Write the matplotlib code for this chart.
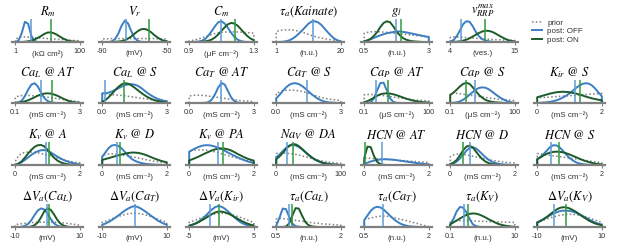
import matplotlib.pyplot as plt
import numpy as np
from matplotlib.lines import Line2D

plt.rcParams['mathtext.fontset'] = 'stix'
plt.rcParams['font.family'] = ['Liberation Sans', 'DejaVu Sans']

# panels row by row; the last slot of the first row holds the legend
titles = [
    r'$R_m$', r'$V_r$', r'$C_m$', r'$\tau_a(Kainate)$', r'$g_l$', r'$v_{RRP}^{max}$',
    r'$Ca_L\ @\ AT$', r'$Ca_L\ @\ S$', r'$Ca_T\ @\ AT$', r'$Ca_T\ @\ S$',
    r'$Ca_P\ @\ AT$', r'$Ca_P\ @\ S$', r'$K_{ir}\ @\ S$',
    r'$K_v\ @\ A$', r'$K_v\ @\ D$', r'$K_v\ @\ PA$', r'$Na_V\ @\ DA$',
    r'$HCN\ @\ AT$', r'$HCN\ @\ D$', r'$HCN\ @\ S$',
    r'$\Delta V_a(Ca_L)$', r'$\Delta V_a(Ca_T)$', r'$\Delta V_a(K_{ir})$',
    r'$\tau_a(Ca_L)$', r'$\tau_a(Ca_T)$', r'$\tau_a(K_V)$', r'$\Delta V_a(K_V)$',
]
x_low = [1, -90, 0.9, 1, 0.5, 4,
         0.1, 0.0, 0.0, 0.0, 0.1, 0.1, 0,
         0, 0, 0, 0, 0, 0, 0,
         -10, -10, -5, 0.5, 0.5, 0.1, -10]
x_high = [100, -50, 1.3, 20, 3, 15,
          3, 3, 3, 3, 100, 100, 2,
          2, 2, 2, 100, 2, 2, 2,
          10, 10, 5, 2, 2, 10, 10]
log_x = [True, False, False, False, False, False,
         True, False, False, False, True, True, False,
         False, False, False, False, False, False, False,
         False, False, False, False, False, True, False]
tick_labels = [('1', '100'), ('-90', '-50'), ('0.9', '1.3'), ('1', '20'), ('0.5', '3'), ('4', '15'),
               ('0.1', '3'), ('0.0', '3'), ('0.0', '3'), ('0.0', '3'), ('0.1', '100'), ('0.1', '100'), ('0', '2'),
               ('0', '2'), ('0', '2'), ('0', '2'), ('0', '100'), ('0', '2'), ('0', '2'), ('0', '2'),
               ('-10', '10'), ('-10', '10'), ('-5', '5'), ('0.5', '2'), ('0.5', '2'), ('0.1', '10'), ('-10', '10')]
ms = '(mS cm⁻²)'
units = ['(kΩ cm²)', '(mV)', '(μF cm⁻²)', '(n.u.)', '(n.u.)', '(ves.)',
         ms, ms, ms, ms, '(μS cm⁻²)', '(μS cm⁻²)', ms,
         ms, ms, ms, ms, ms, ms, ms,
         '(mV)', '(mV)', '(mV)', '(n.u.)', '(n.u.)', '(n.u.)', '(mV)']

# densities sampled at 21 evenly spaced points across [low, high] (log spaced on log axes)
prior = [
    [.1, .2, .22, .22, .21, .2, .19, .18, .17, .16, .15, .14, .13, .12, .11, .1, .09, .08, .07, .06, .05],
    [.13, .14, .14, .15, .15, .15, .15, .15, .15, .15, .15, .15, .15, .15, .15, .15, .15, .14, .14, .14, .13],
    [.05, .07, .1, .14, .18, .23, .28, .33, .37, .4, .42, .43, .44, .44, .44, .44, .43, .42, .41, .4, .38],
    [.45, .5, .52, .53, .53, .52, .5, .47, .43, .38, .33, .28, .24, .2, .17, .14, .12, .1, .08, .06, .05],
    [.38, .42, .44, .45, .45, .44, .43, .42, .4, .39, .37, .36, .34, .33, .31, .3, .28, .27, .26, .25, .24],
    [.2, .22, .22, .21, .2, .19, .18, .17, .16, .15, .14, .13, .12, .11, .1, .1, .09, .08, .08, .07, .07],
    [.25, .3, .32, .33, .33, .32, .31, .3, .28, .27, .25, .23, .21, .19, .17, .15, .13, .11, .09, .07, .05],
    [.38, .38, .37, .36, .35, .34, .33, .31, .29, .27, .25, .23, .21, .19, .17, .15, .14, .12, .11, .1, .09],
    [.3, .33, .34, .34, .33, .32, .3, .28, .26, .24, .22, .2, .18, .16, .14, .12, .1, .09, .08, .07, .06],
    [.42, .48, .52, .55, .56, .56, .55, .53, .5, .46, .42, .37, .32, .28, .24, .21, .18, .16, .14, .12, .1],
    [.36, .37, .37, .36, .35, .34, .32, .3, .28, .26, .24, .22, .2, .18, .16, .14, .13, .12, .11, .1, .09],
    [.42, .43, .42, .4, .38, .36, .34, .32, .3, .28, .26, .24, .22, .2, .18, .17, .15, .14, .13, .12, .11],
    [.22, .23, .24, .25, .26, .27, .28, .29, .3, .31, .32, .33, .34, .35, .36, .37, .38, .39, .4, .41, .42],
    [.15, .4, .5, .55, .56, .56, .55, .53, .5, .47, .43, .39, .34, .3, .26, .22, .19, .16, .13, .11, .09],
    [.42, .46, .48, .48, .47, .46, .44, .42, .4, .37, .34, .31, .28, .25, .22, .19, .17, .15, .13, .11, .1],
    [.6, .63, .65, .66, .66, .65, .63, .6, .57, .53, .49, .45, .41, .37, .33, .3, .26, .23, .2, .18, .16],
    [.5, .52, .52, .51, .5, .48, .46, .43, .4, .36, .32, .28, .24, .21, .18, .15, .13, .11, .09, .08, .07],
    [.3, .3, .29, .28, .27, .26, .25, .24, .23, .22, .21, .2, .19, .18, .17, .16, .15, .14, .13, .12, .11],
    [.36, .44, .47, .47, .46, .44, .41, .38, .35, .32, .29, .26, .23, .2, .18, .16, .14, .12, .11, .1, .09],
    [.5, .48, .46, .44, .42, .4, .38, .36, .34, .32, .3, .28, .26, .24, .22, .2, .18, .16, .14, .12, .1],
    [.1, .12, .14, .16, .18, .19, .2, .21, .21, .21, .21, .21, .21, .2, .19, .18, .16, .14, .12, .1, .08],
    [.2, .25, .3, .36, .41, .46, .5, .54, .57, .59, .6, .59, .57, .54, .5, .46, .41, .36, .3, .25, .2],
    [.2, .25, .3, .36, .41, .46, .5, .54, .57, .59, .6, .59, .57, .54, .5, .46, .41, .36, .3, .25, .2],
    [.35, .38, .37, .35, .33, .31, .29, .27, .25, .23, .21, .19, .17, .16, .14, .13, .12, .11, .1, .09, .08],
    [.33, .36, .39, .42, .45, .47, .48, .47, .44, .41, .38, .35, .31, .28, .24, .2, .17, .13, .09, .05, .01],
    [.28, .28, .28, .28, .27, .27, .27, .26, .26, .25, .25, .24, .24, .23, .23, .22, .22, .21, .21, .2, .2],
    [.2, .25, .3, .35, .4, .44, .48, .51, .53, .55, .55, .55, .53, .51, .48, .44, .4, .35, .3, .25, .2],
]
post_off = [
    [0, .06, .38, .88, .79, .27, .04, 0, 0, 0, 0, 0, 0, 0, 0, 0, 0, 0, 0, 0, 0],
    [0, 0, 0, .03, .13, .37, .71, .93, .81, .47, .18, .05, .01, 0, 0, 0, 0, 0, 0, 0, 0],
    [0, 0, .01, .02, .06, .14, .29, .48, .69, .86, .9, .8, .61, .4, .22, .1, .04, .01, 0, 0, 0],
    [0, 0, .01, .03, .07, .14, .24, .36, .5, .65, .8, .89, .9, .85, .74, .58, .42, .27, .15, .07, .03],
    [.03, .07, .12, .18, .24, .29, .34, .38, .41, .43, .45, .46, .44, .42, .39, .36, .33, .3, .27, .24, .21],
    [.02, .08, .25, .5, .78, .9, .88, .68, .42, .24, .12, .06, .03, .01, 0, 0, 0, 0, 0, 0, 0],
    [0, .02, .1, .3, .58, .8, .86, .72, .45, .22, .09, .03, .01, 0, 0, 0, 0, 0, 0, 0, 0],
    [.42, .43, .45, .5, .57, .64, .71, .77, .81, .82, .8, .75, .66, .55, .44, .34, .26, .19, .14, .1, .07],
    [0, 0, 0, 0, 0, .01, .04, .15, .38, .68, .87, .8, .52, .24, .08, .02, 0, 0, 0, 0, 0],
    [.2, .35, .52, .67, .79, .85, .86, .82, .74, .63, .5, .38, .27, .18, .11, .06, .03, .02, .01, 0, 0],
    [0, 0, .03, .2, .55, .87, .88, .55, .2, .05, .01, 0, 0, 0, 0, 0, 0, 0, 0, 0, 0],
    [0, .01, .03, .07, .14, .24, .36, .48, .59, .66, .68, .66, .59, .49, .38, .28, .19, .12, .06, .03, .01],
    [0, .01, .02, .03, .05, .08, .12, .17, .24, .32, .42, .53, .65, .75, .83, .86, .84, .76, .62, .45, .3],
    [0, .05, .12, .22, .33, .44, .53, .6, .64, .65, .62, .55, .46, .37, .29, .22, .16, .12, .08, .05, .03],
    [.36, .55, .74, .85, .87, .83, .72, .57, .41, .28, .19, .13, .09, .06, .04, .03, .02, .01, .01, 0, 0],
    [.58, .66, .73, .79, .84, .86, .86, .84, .8, .75, .69, .62, .54, .47, .4, .33, .27, .21, .16, .12, .09],
    [.33, .45, .6, .74, .84, .87, .85, .78, .68, .56, .44, .33, .24, .17, .12, .08, .05, .03, .02, .01, 0],
    [.05, .1, .15, .19, .22, .24, .25, .25, .24, .23, .21, .19, .17, .15, .13, .11, .09, .07, .06, .04, .03],
    [.03, .07, .15, .28, .45, .62, .74, .77, .72, .6, .46, .33, .22, .14, .08, .05, .03, .02, .01, 0, 0],
    [.25, .35, .48, .63, .78, .86, .85, .76, .61, .45, .31, .2, .12, .07, .04, .02, .01, 0, 0, 0, 0],
    [0, 0, .01, .05, .14, .3, .52, .72, .81, .76, .58, .35, .16, .06, .02, 0, 0, 0, 0, 0, 0],
    [.1, .15, .22, .3, .4, .5, .61, .71, .8, .87, .91, .87, .8, .71, .61, .5, .4, .3, .22, .15, .1],
    [.06, .1, .16, .24, .35, .48, .62, .76, .86, .91, .88, .8, .68, .55, .42, .3, .2, .13, .08, .05, .03],
    [.05, .4, .8, .78, .45, .15, .04, .01, 0, 0, 0, 0, 0, 0, 0, 0, 0, 0, 0, 0, 0],
    [.3, .5, .7, .83, .88, .85, .76, .63, .49, .36, .25, .16, .1, .06, .03, .02, .01, 0, 0, 0, 0],
    [.1, .35, .68, .87, .84, .64, .35, .12, .04, .01, 0, 0, 0, 0, 0, 0, 0, 0, 0, 0, 0],
    [.2, .27, .35, .43, .51, .58, .64, .69, .71, .71, .7, .67, .62, .56, .49, .41, .33, .26, .19, .14, .1],
]
post_on = [
    [0, 0, 0, .01, .03, .06, .11, .18, .26, .35, .41, .42, .38, .31, .22, .14, .08, .04, .02, .01, 0],
    [0, 0, 0, 0, .01, .02, .04, .08, .15, .24, .36, .47, .55, .57, .53, .44, .32, .21, .12, .06, .03],
    [0, 0, 0, 0, .01, .03, .06, .11, .2, .33, .49, .64, .77, .83, .8, .71, .56, .4, .26, .15, .08],
    None,
    [.03, .07, .14, .27, .43, .65, .83, .9, .86, .68, .46, .3, .17, .1, .06, .03, .02, .01, 0, 0, 0],
    [0, .01, .01, .03, .06, .1, .16, .24, .32, .4, .46, .49, .48, .44, .37, .29, .21, .14, .08, .05, .02],
    [.01, .02, .04, .07, .12, .18, .25, .32, .37, .41, .42, .41, .37, .32, .25, .18, .12, .07, .04, .02, .01],
    [.05, .13, .25, .4, .56, .7, .81, .86, .84, .77, .67, .56, .45, .35, .26, .19, .13, .09, .06, .04, .02],
    None,
    None,
    [.04, .08, .15, .23, .31, .38, .41, .42, .41, .38, .34, .29, .24, .19, .15, .11, .08, .06, .04, .03, .02],
    [.35, .45, .58, .72, .83, .88, .83, .68, .5, .34, .22, .13, .08, .05, .03, .02, .01, 0, 0, 0, 0],
    [.25, .29, .33, .37, .41, .44, .47, .48, .49, .48, .47, .44, .41, .37, .33, .28, .24, .2, .17, .14, .12],
    [.01, .06, .16, .32, .5, .66, .79, .86, .87, .81, .66, .48, .32, .2, .12, .07, .04, .02, .01, 0, 0],
    [.22, .26, .3, .34, .38, .42, .46, .49, .52, .54, .54, .53, .5, .46, .41, .35, .29, .24, .19, .15, .12],
    [.2, .25, .31, .37, .44, .51, .57, .63, .68, .71, .72, .71, .68, .63, .56, .48, .41, .34, .28, .23, .19],
    [.25, .37, .52, .69, .83, .9, .9, .82, .7, .57, .44, .33, .24, .17, .11, .07, .05, .03, .02, .01, 0],
    [.3, .8, .78, .4, .14, .04, .01, 0, 0, 0, 0, 0, 0, 0, 0, 0, 0, 0, 0, 0, 0],
    [.04, .1, .22, .42, .64, .8, .84, .76, .58, .4, .25, .14, .08, .04, .02, .01, 0, 0, 0, 0, 0],
    [.25, .33, .42, .49, .54, .57, .58, .57, .55, .51, .46, .4, .34, .28, .22, .17, .13, .09, .06, .04, .03],
    [0, 0, 0, 0, 0, .02, .08, .2, .42, .68, .81, .75, .55, .32, .15, .06, .02, 0, 0, 0, 0],
    None,
    [.06, .1, .15, .22, .3, .38, .47, .56, .63, .67, .67, .64, .59, .52, .44, .36, .28, .21, .15, .1, .07],
    [0, 0, 0, .02, .15, .5, .82, .8, .5, .22, .08, .03, .01, 0, 0, 0, 0, 0, 0, 0, 0],
    None,
    [.12, .2, .28, .37, .45, .52, .57, .59, .58, .54, .48, .41, .33, .26, .19, .13, .09, .06, .04, .02, .01],
    [.19, .26, .34, .44, .55, .66, .76, .83, .86, .85, .81, .74, .66, .56, .46, .37, .28, .21, .15, .11, .08],
]
mean_off = [3.0, -75.3, 1.096, 11.8, 1.74, 5.8,
            0.39, 0.12, 1.46, 1.41, 0.35, 1.43, 1.16,
            0.96, 0.46, 0.9, 17, 0.56, 0.62, 0.44,
            -0.2, 0.0, -1.8, 0.8, 0.935, 0.275, -4.8]
mean_on = [12.6, -61, 1.186, None, 1.94, 9.9,
           0.71, 1.02, None, None, 1.29, 0.56, 1.32,
           1.06, 0.56, 1.04, 26, 0.01, 0.4, 0.66,
           0.6, None, -0.4, 0.86, None, 0.35, -1.2]

GREY = '#7f7f7f'
BLUE = '#3b7fc2'
BLUE_MEAN = '#5d9bd6'
GREEN = '#1d5c2a'
GREEN_MEAN = '#2f9a3e'
TEXT = '#333333'

W, H = 617, 249
fig = plt.figure(figsize=(W / 100, H / 100), dpi=100)

col_left = [12, 99, 186, 273, 361, 447, 534]
row_base = [42, 103, 165, 227]
ax_w, ax_h = 71, 23
slots = [(r, c) for r in range(4) for c in range(7) if not (r == 0 and c == 6)]


def closed(y):
    return np.r_[0, y, 0]


for i, (r, c) in enumerate(slots):
    ax = fig.add_axes([col_left[c] / W, 1 - row_base[r] / H, ax_w / W, ax_h / H])
    lo, hi = x_low[i], x_high[i]
    n = len(prior[i])
    if log_x[i]:
        ax.set_xscale('log')
        x = np.geomspace(lo, hi, n)
        pad = (hi / lo) ** 0.05
        ax.set_xlim(lo / pad, hi * pad)
    else:
        x = np.linspace(lo, hi, n)
        pad = (hi - lo) * 0.05
        ax.set_xlim(lo - pad, hi + pad)
    xx = np.r_[lo, x, hi]

    ax.plot(xx, closed(prior[i]), ls=(0, (1, 1.5)), color=GREY, lw=1.1)
    ax.plot(xx, closed(post_off[i]), color=BLUE, lw=1.4)
    if post_on[i] is not None:
        ax.plot(xx, closed(post_on[i]), color=GREEN, lw=1.4)
    ax.axvline(mean_off[i], color=BLUE_MEAN, lw=1.1)
    if mean_on[i] is not None:
        ax.axvline(mean_on[i], color=GREEN_MEAN, lw=1.1)

    ax.set_ylim(0, 1)
    ax.set_yticks([])
    ax.minorticks_off()
    ax.set_xticks([lo, hi])
    ax.set_xticklabels(tick_labels[i])
    ax.tick_params(axis='x', length=2, width=0.8, color=GREY, labelsize=5.2, labelcolor=TEXT, pad=2)
    for side in ('left', 'right', 'top'):
        ax.spines[side].set_visible(False)
    ax.spines['bottom'].set_color(GREY)
    ax.spines['bottom'].set_linewidth(1.6)
    ax.set_xlabel(units[i], fontsize=5.8, color=TEXT)
    ax.xaxis.set_label_coords(0.5, -0.36)
    ax.set_title(titles[i], fontsize=9, pad=2)

handles = [Line2D([], [], ls=(0, (1, 1.5)), color=GREY, lw=1.1),
           Line2D([], [], color=BLUE, lw=1.4),
           Line2D([], [], color=GREEN, lw=1.4)]
fig.legend(handles, ['prior', 'post: OFF', 'post: ON'], loc='upper left',
           bbox_to_anchor=(532 / W, 1 - 19 / H), frameon=False, fontsize=5.8,
           handlelength=1.3, handletextpad=0.6, labelspacing=0.12, borderpad=0,
           borderaxespad=0, labelcolor=TEXT)

fig.savefig('out.png', dpi=100)
